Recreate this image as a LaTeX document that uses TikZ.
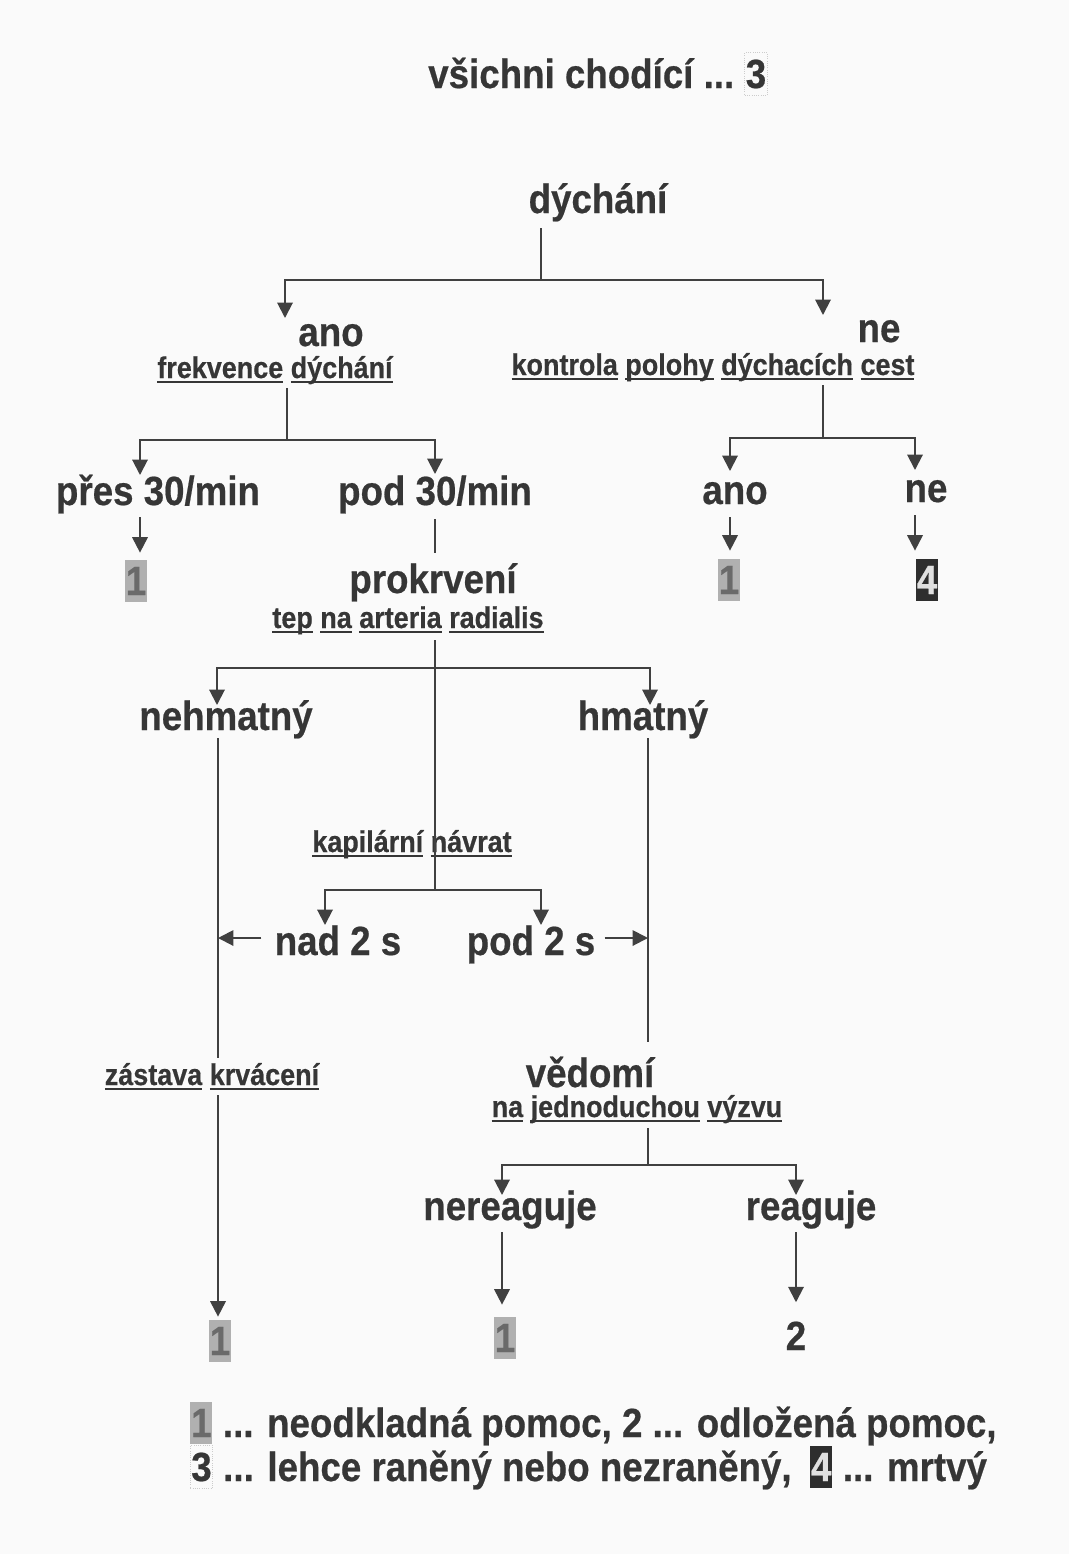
\documentclass[tikz,border=0pt]{standalone}
\usepackage{fontspec}
\newfontfamily\df{Liberation Sans}[FakeStretch=0.9,FakeBold=0.5]
\usetikzlibrary{arrows.meta,calc}
\definecolor{ink}{HTML}{363636}
\definecolor{lin}{HTML}{404040}
\definecolor{boxg}{HTML}{B0B0B0}
\definecolor{digg}{HTML}{6A6A6A}
\definecolor{boxd}{HTML}{2E2E2E}
\definecolor{bg}{HTML}{FAFAFA}
\newcommand\ulw[1]{\setbox0\hbox{#1}\rlap{\rule[-0.17em]{\wd0}{0.08em}}\box0\relax}
\begin{document}
\begin{tikzpicture}[x=0.025cm,y=-0.025cm,
  big/.style={font=\df\bfseries\fontsize{29}{34}\selectfont, text=ink, anchor=base, inner sep=0pt},
  lab/.style={font=\df\bfseries\fontsize{21.3}{25}\selectfont, text=ink, anchor=base, inner sep=0pt},
  ln/.style={draw=lin, line width=1.4pt},
  arr/.style={ln, -{Triangle[width=11pt,length=11pt]}},
  gbox/.style={big, fill=boxg, text=digg, inner xsep=0.6pt, inner ysep=5pt},
  dbox/.style={big, fill=boxd, text=white!88!black, inner xsep=0.6pt, inner ysep=5pt},
  tbox/.style={big, draw=gray!40, densely dotted, line width=0.6pt, inner xsep=0.6pt, inner ysep=5pt}]
\fill[bg] (0,0) rectangle (1069,1554);
\useasboundingbox (0,0) rectangle (1069,1554);

% title
\node[big, anchor=base west] (title) at (428,88) {všichni chodící ...};
\node[tbox, anchor=base west] (t3n) at ($(title.base east)+(10,0)$) {3};

% nodes
\node[big] (dych) at (598,213) {dýchání};
\node[big] (ano) at (331,346) {ano};
\node[big] (ne) at (879,342) {ne};
\node[lab] (frek) at (275,378) {\ulw{frekvence} \ulw{dýchání}};
\node[lab] (kont) at (713,375) {\ulw{kontrola} \ulw{polohy} \ulw{dýchacích} \ulw{cest}};
\node[big] (pres) at (158,505) {přes 30/min};
\node[big] (pod) at (435,505) {pod 30/min};
\node[big] (ano2) at (735,504) {ano};
\node[big] (ne2) at (926,502) {ne};
\node[gbox] (b1a) at (136,595) {1};
\node[gbox] (b1b) at (729,594) {1};
\node[dbox] (b4) at (927,594) {4};
\node[big] (prok) at (433,593) {prokrvení};
\node[lab] (tep) at (408,628) {\ulw{tep} \ulw{na} \ulw{arteria} \ulw{radialis}};
\node[big] (nehm) at (226,730) {nehmatný};
\node[big] (hmat) at (643,730) {hmatný};
\node[lab] (kap) at (412,852) {\ulw{kapilární} \ulw{návrat}};
\node[big] (nad) at (338,955) {nad 2 s};
\node[big] (pod2) at (531,955) {pod 2 s};
\node[lab] (zast) at (212,1085) {\ulw{zástava} \ulw{krvácení}};
\node[big] (ved) at (590,1087) {vědomí};
\node[lab] (vyz) at (637,1117) {\ulw{na} \ulw{jednoduchou} \ulw{výzvu}};
\node[big] (nere) at (510,1220) {nereaguje};
\node[big] (reag) at (811,1220) {reaguje};
\node[gbox] (b1c) at (220,1355) {1};
\node[gbox] (b1d) at (505,1352) {1};
\node[big] (two) at (796,1350) {2};

% junctions
\coordinate (t1) at (541,280); \coordinate (t1l) at (285,280); \coordinate (t1r) at (823,280);
\coordinate (t2) at (287,440); \coordinate (t2l) at (140,440); \coordinate (t2r) at (435,440);
\coordinate (t3) at (823,438); \coordinate (t3l) at (730,438); \coordinate (t3r) at (915,438);
\coordinate (t4) at (435,668); \coordinate (t4l) at (217,668); \coordinate (t4r) at (650,668);
\coordinate (t5) at (435,890); \coordinate (t5l) at (325,890); \coordinate (t5r) at (541,890);
\coordinate (vl) at (218,938); \coordinate (vr) at (648,938);
\coordinate (t6) at (648,1165); \coordinate (t6l) at (502,1165); \coordinate (t6r) at (796,1165);

% connectors
\draw[ln] ($(dych.base -| t1)+(0,15)$) -- (t1);
\draw[arr] (t1) -- (t1l) -- ($(ano.base -| t1l)+(0,-28)$);
\draw[arr] (t1) -- (t1r) -- ($(ne.base -| t1r)+(0,-27)$);

\draw[ln] ($(frek.base -| t2)+(0,10)$) -- (t2);
\draw[arr] (t2) -- (t2l) -- ($(pres.base -| t2l)+(0,-30)$);
\draw[arr] (t2) -- (t2r) -- ($(pod.base -| t2r)+(0,-31)$);

\draw[ln] ($(kont.base -| t3)+(0,10)$) -- (t3);
\draw[arr] (t3) -- (t3l) -- ($(ano2.base -| t3l)+(0,-33)$);
\draw[arr] (t3) -- (t3r) -- ($(ne2.base -| t3r)+(0,-32)$);

\draw[arr] ($(pres.base -| t2l)+(0,12)$) -- ($(b1a.north -| t2l)+(0,-7)$);
\draw[arr] ($(ano2.base -| t3l)+(0,13)$) -- ($(b1b.north -| t3l)+(0,-8)$);
\draw[arr] ($(ne2.base -| t3r)+(0,13)$) -- ($(b4.north -| t3r)+(0,-8)$);

\draw[ln] ($(pod.base -| t2r)+(0,14)$) -- ($(prok.base -| t2r)+(0,-40)$);

\draw[ln] ($(tep.base -| t4)+(0,12)$) -- (t5);
\draw[arr] (t4) -- (t4l) -- ($(nehm.base -| t4l)+(0,-25)$);
\draw[arr] (t4) -- (t4r) -- ($(hmat.base -| t4r)+(0,-25)$);
\draw[arr] (t5) -- (t5l) -- ($(nad.base -| t5l)+(0,-30)$);
\draw[arr] (t5) -- (t5r) -- ($(pod2.base -| t5r)+(0,-30)$);

\draw[ln] ($(nehm.base -| vl)+(0,8)$) -- ($(zast.base -| vl)+(0,-27)$);
\draw[arr] ($(zast.base -| vl)+(0,10)$) -- ($(b1c.north -| vl)+(0,-3)$);
\draw[arr] ($(nad.west |- vl)+(-13,0)$) -- (vl);
\draw[arr] ($(pod2.east |- vr)+(9,0)$) -- (vr);

\draw[ln] ($(hmat.base -| vr)+(0,8)$) -- ($(ved.base -| vr)+(0,-45)$);

\draw[ln] ($(vyz.base -| t6)+(0,11)$) -- (t6);
\draw[arr] (t6) -- (t6l) -- ($(nere.base -| t6l)+(0,-25)$);
\draw[arr] (t6) -- (t6r) -- ($(reag.base -| t6r)+(0,-25)$);
\draw[arr] ($(nere.base -| t6l)+(0,12)$) -- ($(b1d.north -| t6l)+(0,-12)$);
\draw[arr] ($(reag.base -| t6r)+(0,12)$) -- ($(two.north -| t6r)+(0,-19)$);

% legend
\node[gbox, anchor=base west] (L1) at (190,1437) {1};
\node[big, anchor=base west] (L1t) at ($(L1.base east)+(10,0)$) {... neodkladná pomoc, 2 ... odložená pomoc,};
\node[tbox, anchor=base west] (L3) at (190,1481) {3};
\node[big, anchor=base west] (L3t) at ($(L3.base east)+(10,0)$) {... lehce raněný nebo nezraněný,};
\node[dbox, anchor=base west] (L4) at ($(L3t.base east)+(18,0)$) {4};
\node[big, anchor=base west] (L4t) at ($(L4.base east)+(10,0)$) {... mrtvý};
\end{tikzpicture}
\end{document}
